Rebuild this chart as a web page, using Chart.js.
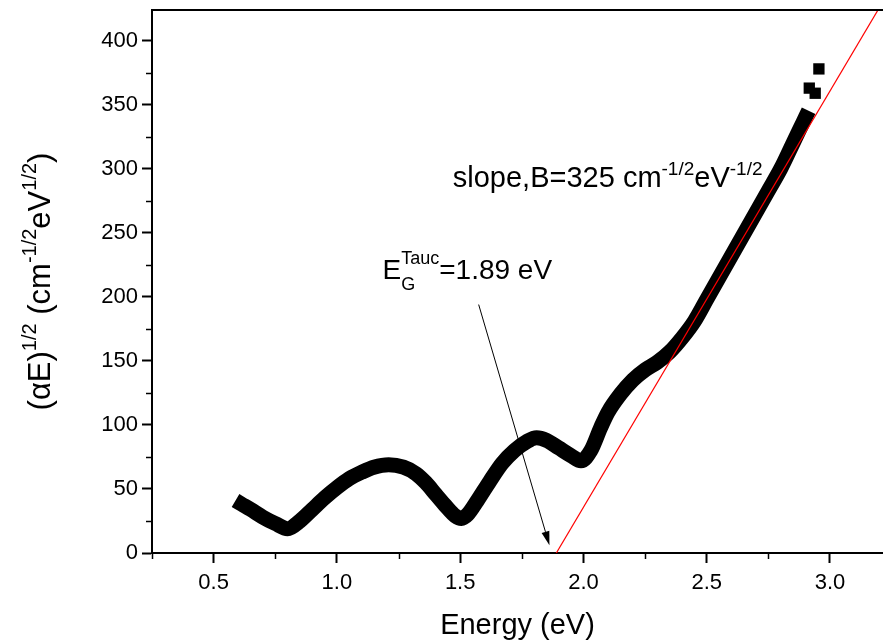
<!DOCTYPE html>
<html lang="en">
<head>
<meta charset="utf-8" />
<title>Tauc plot</title>
<script src="https://cdn.jsdelivr.net/npm/chart.js@4.4.1/dist/chart.umd.min.js"></script>
<style>
  html, body { margin: 0; padding: 0; background: #fff; overflow: hidden; }
  canvas { display: block; }
</style>
</head>
<body>
<canvas id="tauc" width="883" height="643"></canvas>
<script>
var energy = [0.615, 0.65, 0.70, 0.75, 0.80, 0.85, 0.90, 0.95, 1.00, 1.05, 1.10, 1.15, 1.21, 1.27, 1.32, 1.36, 1.40, 1.44, 1.48, 1.505,
              1.53, 1.57, 1.62, 1.67, 1.72, 1.77, 1.81, 1.85, 1.90, 1.95, 1.99, 2.03, 2.07, 2.10, 2.15, 2.20, 2.25, 2.30, 2.35, 2.40,
              2.45, 2.50, 2.55, 2.60, 2.65, 2.70, 2.75, 2.80, 2.85, 2.88, 2.90];
var tauc = [38, 34, 28, 23, 19, 25, 34, 43, 51, 58, 63, 67, 69, 67, 62, 55, 46, 37, 29, 27,
            30, 41, 56, 70, 80, 87, 90, 88, 82, 76, 72, 80, 98, 110, 124, 135, 143, 149, 157, 168,
            181, 198, 215, 232, 249, 266, 283, 300, 320, 332, 340];
// loose squares at the top end
var tailEnergy = [2.916, 2.940, 2.955];
var tailTauc = [363, 359, 378];
// linear fit, extended down to the energy axis
var fitEnergy = [1.89, 3.25];
var fitTauc = [0, 442];

var xTicks = [0.5, 1.0, 1.5, 2.0, 2.5, 3.0];
var xMinor = [0.25, 0.75, 1.25, 1.75, 2.25, 2.75];
var yTicks = [0, 50, 100, 150, 200, 250, 300, 350, 400];
var yMinor = [25, 75, 125, 175, 225, 275, 325, 375];

var FONT = "'Liberation Sans', Arial, sans-serif";

function pts(xs, ys) {
    return xs.map(function (x, i) { return { x: x, y: ys[i] }; });
}

// text with raised / lowered pieces, left to right from (x, y)
function runs(ctx, x, y, parts) {
    parts.forEach(function (p) {
        ctx.font = p.size + "px " + FONT;
        ctx.fillText(p.t, x, y - (p.dy || 0));
        x += ctx.measureText(p.t).width;
    });
    return x;
}
function runsWidth(ctx, parts) {
    var w = 0;
    parts.forEach(function (p) {
        ctx.font = p.size + "px " + FONT;
        w += ctx.measureText(p.t).width;
    });
    return w;
}

// no extra room for the end tick labels, the frame goes to the edges
function noPad(s) {
    s.paddingTop = 0; s.paddingBottom = 0; s.paddingLeft = 0; s.paddingRight = 0;
}

var extras = {
    id: 'extras',
    afterDraw: function (chart) {
        var ctx = chart.ctx, a = chart.chartArea;
        var xs = chart.scales.x, ys = chart.scales.y;
        ctx.save();
        ctx.fillStyle = '#000';
        ctx.strokeStyle = '#000';

        // top frame line
        ctx.lineWidth = 2;
        ctx.beginPath();
        ctx.moveTo(a.left - 1, a.top);
        ctx.lineTo(a.right, a.top);
        ctx.stroke();

        // minor ticks
        ctx.lineWidth = 1.5;
        xMinor.forEach(function (v) {
            var px = Math.round(xs.getPixelForValue(v)) + 0.5;
            ctx.beginPath();
            ctx.moveTo(px, a.bottom);
            ctx.lineTo(px, a.bottom + 6);
            ctx.stroke();
        });
        yMinor.forEach(function (v) {
            var py = Math.round(ys.getPixelForValue(v)) + 0.5;
            ctx.beginPath();
            ctx.moveTo(a.left, py);
            ctx.lineTo(a.left - 6, py);
            ctx.stroke();
        });

        // y axis title
        var yTitle = [
            { t: '(\u03b1E)', size: 31 },
            { t: '1/2', size: 20, dy: 14 },
            { t: ' (cm', size: 31 },
            { t: '-1/2', size: 20, dy: 14 },
            { t: 'eV', size: 31 },
            { t: '1/2', size: 20, dy: 14 },
            { t: ')', size: 31 }
        ];
        ctx.save();
        ctx.translate(50, (a.top + a.bottom) / 2);
        ctx.rotate(-Math.PI / 2);
        ctx.textBaseline = 'alphabetic';
        runs(ctx, -runsWidth(ctx, yTitle) / 2, 0, yTitle);
        ctx.restore();

        // slope label
        var sx = xs.getPixelForValue(1.47), sy = ys.getPixelForValue(286);
        runs(ctx, sx, sy, [
            { t: 'slope,B=325 cm', size: 29 },
            { t: '-1/2', size: 19, dy: 12 },
            { t: 'eV', size: 29 },
            { t: '-1/2', size: 19, dy: 12 }
        ]);

        // band gap label
        var gx = xs.getPixelForValue(1.185), gy = ys.getPixelForValue(214);
        ctx.font = '28px ' + FONT;
        ctx.fillText('E', gx, gy);
        var ex = gx + ctx.measureText('E').width;
        ctx.font = '18px ' + FONT;
        ctx.fillText('Tauc', ex, gy - 15);
        ctx.fillText('G', ex, gy + 11);
        var ex2 = ex + Math.max(ctx.measureText('Tauc').width, ctx.measureText('G').width);
        ctx.font = '28px ' + FONT;
        ctx.fillText('=1.89 eV', ex2, gy);

        // arrow to the intercept
        var x0 = xs.getPixelForValue(1.575), y0 = ys.getPixelForValue(194);
        var x1 = xs.getPixelForValue(1.862), y1 = ys.getPixelForValue(6);
        var ang = Math.atan2(y1 - y0, x1 - x0);
        var hl = 14, hw = 4;
        ctx.lineWidth = 1;
        ctx.beginPath();
        ctx.moveTo(x0, y0);
        ctx.lineTo(x1 - hl * Math.cos(ang), y1 - hl * Math.sin(ang));
        ctx.stroke();
        ctx.beginPath();
        ctx.moveTo(x1, y1);
        ctx.lineTo(x1 - hl * Math.cos(ang) + hw * Math.sin(ang), y1 - hl * Math.sin(ang) - hw * Math.cos(ang));
        ctx.lineTo(x1 - hl * Math.cos(ang) - hw * Math.sin(ang), y1 - hl * Math.sin(ang) + hw * Math.cos(ang));
        ctx.closePath();
        ctx.fill();

        ctx.restore();
    }
};

var ctx = document.getElementById('tauc').getContext('2d');
var chart = new Chart(ctx, {
    type: 'scatter',
    data: {
        datasets: [{
            label: 'fit',
            data: pts(fitEnergy, fitTauc),
            showLine: true,
            borderColor: '#ff0000',
            borderWidth: 1.2,
            pointRadius: 0
        }, {
            label: 'tauc',
            data: pts(energy, tauc),
            showLine: true,
            borderColor: '#000',
            borderWidth: 15,
            borderCapStyle: 'square',
            borderJoinStyle: 'round',
            cubicInterpolationMode: 'monotone',
            pointRadius: 0
        }, {
            label: 'tail',
            data: pts(tailEnergy, tailTauc),
            showLine: false,
            pointStyle: 'rect',
            pointRadius: 8,
            pointBorderWidth: 0,
            pointBackgroundColor: '#000'
        }]
    },
    options: {
        responsive: false,
        devicePixelRatio: 1,
        animation: false,
        layout: { autoPadding: false, padding: { top: 10, right: 0, left: 0, bottom: 0 } },
        plugins: { legend: { display: false }, tooltip: { enabled: false } },
        scales: {
            x: {
                type: 'linear',
                min: 0.25,
                max: 3.215,
                afterBuildTicks: function (s) { s.ticks = xTicks.map(function (v) { return { value: v }; }); },
                afterFit: function (s) { s.height = 90; noPad(s); },
                grid: { drawOnChartArea: false, tickLength: 10, tickWidth: 2, color: '#000' },
                border: { color: '#000', width: 2 },
                ticks: {
                    color: '#000',
                    padding: 7,
                    maxRotation: 0,
                    font: { family: FONT, size: 22 },
                    callback: function (v) { return v.toFixed(1); }
                },
                title: {
                    display: true,
                    text: 'Energy (eV)',
                    color: '#000',
                    font: { family: FONT, size: 29 },
                    padding: { top: 0, bottom: 0 }
                }
            },
            y: {
                type: 'linear',
                min: 0,
                max: 424,
                afterBuildTicks: function (s) { s.ticks = yTicks.map(function (v) { return { value: v }; }); },
                afterFit: function (s) { s.width = 152; noPad(s); },
                grid: { drawOnChartArea: false, tickLength: 10, tickWidth: 2, color: '#000' },
                border: { color: '#000', width: 2 },
                ticks: {
                    color: '#000',
                    padding: 4,
                    font: { family: FONT, size: 22 },
                    callback: function (v) { return String(v); }
                }
            }
        }
    },
    plugins: [extras]
});
</script>
</body>
</html>
